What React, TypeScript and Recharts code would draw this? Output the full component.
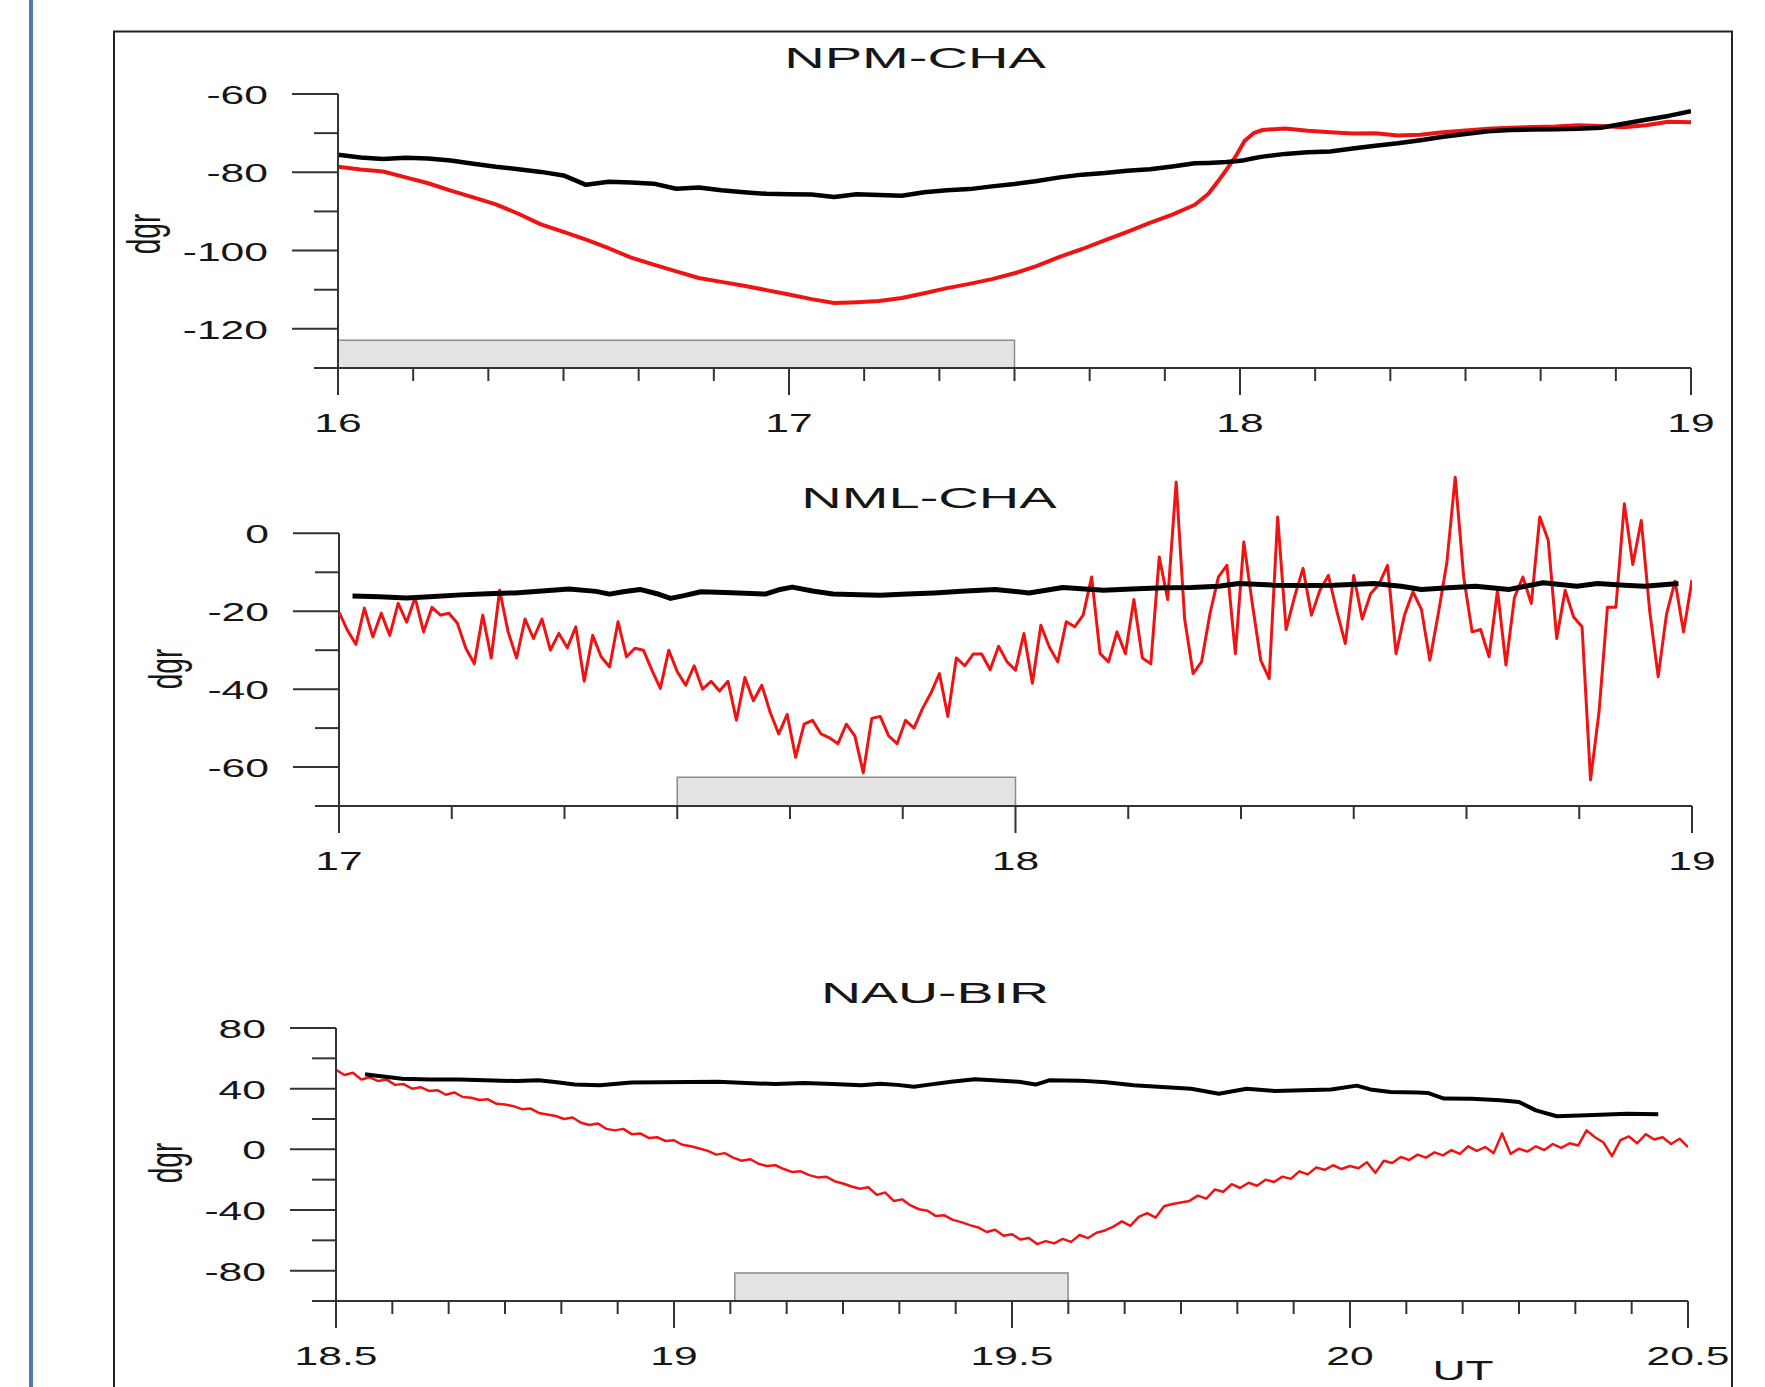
import { LineChart, Line, XAxis, YAxis, ReferenceArea, ReferenceLine } from "recharts";

const FONT = "'Liberation Sans', Arial, Helvetica, sans-serif";
const STRETCH = 1.64;
const RED = "#ef1414";
const INK = "#161616";
const AXIS = "#333333";

// ---- NPM-CHA ----
const npmTimes = [
  16.0, 16.05, 16.1, 16.15, 16.2, 16.25, 16.3, 16.35, 16.4, 16.45, 16.5, 16.55, 16.6,
  16.65, 16.7, 16.75, 16.8, 16.85, 16.9, 16.95, 17.0, 17.05, 17.1, 17.15, 17.2, 17.25,
  17.3, 17.35, 17.4, 17.45, 17.5, 17.55, 17.6, 17.65, 17.7, 17.75, 17.8, 17.85, 17.9,
  17.93, 17.95, 17.97, 17.99, 18.01, 18.03, 18.05, 18.1, 18.15, 18.2, 18.25, 18.3, 18.35,
  18.4, 18.45, 18.5, 18.55, 18.6, 18.65, 18.7, 18.75, 18.8, 18.85, 18.9, 18.95, 19.0,
];
const npmBlack = [
  -75.5, -76.2, -76.6, -76.3, -76.5, -77.0, -77.8, -78.6, -79.2, -79.9, -80.8, -83.2, -82.4,
  -82.6, -82.9, -84.2, -83.9, -84.6, -85.1, -85.5, -85.6, -85.7, -86.3, -85.6, -85.8, -86.0,
  -85.1, -84.6, -84.3, -83.6, -83.0, -82.2, -81.3, -80.6, -80.2, -79.6, -79.2, -78.5, -77.7,
  -77.6, -77.5, -77.4, -77.2, -76.9, -76.4, -76.0, -75.3, -74.9, -74.7, -73.9, -73.2, -72.6,
  -71.8, -70.9, -70.2, -69.5, -69.2, -69.1, -69.0, -68.9, -68.6, -67.6, -66.6, -65.6, -64.4,
];
const npmRed = [
  -78.6, -79.3, -79.8, -81.3, -82.8, -84.7, -86.4, -88.2, -90.6, -93.3, -95.2, -97.2, -99.4,
  -101.8, -103.6, -105.3, -107.0, -108.0, -109.0, -110.1, -111.2, -112.4, -113.4, -113.2, -112.9, -112.1,
  -110.9, -109.6, -108.5, -107.3, -105.8, -103.9, -101.6, -99.6, -97.4, -95.2, -92.9, -90.8, -88.3,
  -85.5, -82.5, -79.3, -76.0, -72.0, -70.0, -69.2, -68.8, -69.4, -69.8, -70.1, -70.0, -70.6,
  -70.4, -69.8, -69.3, -68.9, -68.6, -68.4, -68.3, -68.0, -68.2, -68.5, -68.0, -67.1, -67.2,
];
const npmXMajor = [16, 17, 18, 19];
const npmYTicks = [-130, -120, -110, -100, -90, -80, -70, -60];
const npmYMajor = [-120, -100, -80, -60];
const npmBar = { x1: 16, x2: 17.5, y1: -130, y2: -122.9 };

// ---- NML-CHA ----
const nmlBlackTimes = [
  17.02, 17.06, 17.1, 17.14, 17.18, 17.22, 17.26, 17.3, 17.34, 17.38, 17.4, 17.42, 17.445,
  17.47, 17.49, 17.51, 17.535, 17.57, 17.6, 17.63, 17.65, 17.67, 17.7, 17.73, 17.77, 17.8,
  17.84, 17.88, 17.92, 17.97, 18.02, 18.07, 18.13, 18.18, 18.22, 18.26, 18.3, 18.33, 18.38,
  18.43, 18.47, 18.53, 18.57, 18.6, 18.64, 18.68, 18.73, 18.78, 18.83, 18.86, 18.9, 18.93, 18.98,
];
const nmlBlack = [
  -16.1, -16.3, -16.6, -16.2, -15.8, -15.5, -15.3, -14.8, -14.3, -14.9, -15.6, -15.0, -14.4,
  -15.5, -16.7, -16.0, -15.0, -15.2, -15.4, -15.6, -14.5, -13.8, -14.8, -15.6, -15.8, -15.9,
  -15.6, -15.3, -14.9, -14.4, -15.3, -13.9, -14.6, -14.2, -14.0, -13.9, -13.6, -12.9, -13.3,
  -13.4, -13.3, -12.9, -13.6, -14.4, -14.0, -13.6, -14.4, -12.7, -13.6, -12.9, -13.3, -13.6, -12.9,
];
const nmlRedStart = 17;
const nmlRedStep = 0.0125;
const nmlRed = [
  -20.2, -24.9, -28.5, -19.2, -26.6, -20.5, -26.2, -18.0, -22.8, -16.5, -25.3, -19.0, -21.0,
  -20.5, -23.1, -29.5, -33.5, -21.0, -32.0, -14.6, -25.3, -32.0, -22.0, -27.0, -22.0, -30.0,
  -25.7, -29.4, -24.0, -38.0, -26.2, -31.7, -34.3, -22.7, -31.7, -29.5, -30.0, -35.1, -39.8,
  -30.0, -35.5, -39.0, -34.0, -40.0, -38.0, -40.5, -38.0, -48.0, -37.0, -43.0, -39.0, -46.0,
  -51.5, -46.5, -57.5, -49.0, -48.0, -51.5, -52.5, -54.0, -49.0, -52.0, -61.5, -47.5, -47.0,
  -52.0, -54.0, -48.0, -50.0, -45.0, -41.0, -36.0, -47.0, -32.0, -34.0, -31.0, -31.0, -35.0,
  -29.0, -33.0, -35.1, -25.7, -38.5, -23.6, -29.2, -33.0, -22.7, -24.0, -21.0, -11.2, -30.9,
  -33.0, -25.3, -30.9, -17.0, -32.0, -33.5, -6.1, -17.0, 13.2, -22.0, -36.0, -33.0, -20.6,
  -11.2, -8.2, -30.9, -2.2, -18.0, -32.6, -37.3, 4.2, -24.7, -16.3, -9.0, -21.0, -14.6,
  -10.8, -20.0, -28.3, -10.8, -22.0, -15.5, -13.0, -8.2, -30.9, -21.0, -15.0, -19.5, -32.6,
  -20.6, -7.7, 14.4, -11.2, -25.3, -24.7, -31.7, -14.6, -33.8, -16.5, -11.2, -18.0, 4.2,
  -1.8, -27.0, -14.6, -21.5, -24.0, -63.3, -46.0, -19.0, -19.0, 7.6, -8.0, 3.3, -20.0,
  -36.8, -20.6, -12.3, -25.3, -12.0,
];
const nmlXMajor = [17, 18, 19];
const nmlYTicks = [-70, -60, -50, -40, -30, -20, -10, 0];
const nmlYMajor = [-60, -40, -20, 0];
const nmlBar = { x1: 17.5, x2: 18.0, y1: -70, y2: -62.6 };

// ---- NAU-BIR ----
const nauBlackTimes = [
  18.543, 18.56, 18.598, 18.64, 18.683, 18.72, 18.768, 18.8, 18.83, 18.853, 18.89, 18.937,
  18.98, 19.022, 19.065, 19.107, 19.15, 19.192, 19.235, 19.277, 19.305, 19.33, 19.355,
  19.375, 19.41, 19.445, 19.472, 19.51, 19.535, 19.555, 19.6, 19.639, 19.68, 19.722, 19.765,
  19.806, 19.847, 19.889, 19.93, 19.972, 20.01, 20.03, 20.06, 20.1, 20.115, 20.139, 20.18,
  20.222, 20.25, 20.275, 20.306, 20.35, 20.41, 20.456,
];
const nauBlack = [
  49.5, 48.5, 46.6, 46.0, 46.0, 45.5, 45.0, 45.5, 44.0, 42.7, 42.2, 44.0,
  44.2, 44.4, 44.5, 43.8, 43.0, 43.8, 43.0, 42.2, 43.3, 42.5, 41.2,
  42.5, 44.5, 46.2, 45.5, 44.5, 42.7, 45.5, 45.3, 44.2, 42.2, 41.1, 40.0,
  36.7, 40.0, 38.5, 39.0, 39.4, 42.0, 39.5, 37.8, 37.5, 37.2, 33.5, 33.4,
  32.3, 31.2, 25.7, 21.8, 22.4, 23.5, 23.1,
];
const nauRedStart = 18.5;
const nauRedStep = 0.0125;
const nauRed = [
  52.5, 49.0, 50.5, 46.0, 47.5, 45.0, 46.0, 42.5, 43.0, 40.0, 41.0, 38.5, 39.0,
  36.0, 37.5, 34.5, 34.0, 32.5, 33.0, 30.0, 29.5, 28.5, 26.5, 27.0, 24.0, 23.0,
  22.0, 20.0, 21.0, 17.5, 16.0, 17.0, 13.5, 12.5, 13.5, 10.0, 10.5, 7.5, 8.0,
  5.5, 6.0, 3.0, 2.0, 0.5, -1.0, -3.5, -2.5, -5.5, -7.5, -6.5, -9.5, -11.0,
  -10.5, -13.0, -15.0, -14.5, -17.0, -18.5, -18.0, -21.0, -22.5, -24.5, -26.0, -25.0, -30.0,
  -28.5, -34.0, -33.0, -37.0, -39.5, -40.5, -44.0, -43.5, -46.5, -48.0, -50.0, -51.5, -54.5,
  -53.0, -57.0, -56.0, -59.5, -58.5, -62.5, -60.5, -62.0, -59.0, -61.0, -56.5, -58.5, -55.0,
  -53.5, -51.0, -47.5, -50.5, -44.5, -42.0, -45.0, -37.5, -36.0, -35.0, -34.0, -30.5, -32.5,
  -26.5, -28.0, -23.0, -25.5, -22.0, -24.0, -20.0, -21.5, -18.0, -19.5, -14.5, -16.5, -12.0,
  -13.5, -10.5, -13.0, -11.0, -12.5, -8.5, -15.5, -7.5, -9.0, -5.0, -7.0, -3.5, -5.5,
  -2.0, -4.0, -0.5, -3.0, 2.0, -1.0, 1.5, -2.5, 10.5, -3.0, 0.5, -1.5, 2.0,
  -0.5, 3.5, 1.0, 4.0, 2.5, 12.5, 8.0, 4.5, -4.5, 6.0, 8.5, 4.0, 10.0,
  6.5, 8.0, 3.5, 7.0, 1.5,
];
const nauXMajor = [18.5, 19, 19.5, 20, 20.5];
const nauYTicks = [-100, -80, -60, -40, -20, 0, 20, 40, 60, 80];
const nauYMajor = [-80, -40, 0, 40, 80];
const nauBar = { x1: 19.09, x2: 19.583, y1: -100, y2: -81.6 };

type Row = { t: number; black?: number; red?: number };

function merge(bt: number[], bv: number[], rt: number[], rv: number[]): Row[] {
  const map = new Map<number, Row>();
  bt.forEach((t, i) => {
    const r = map.get(t) ?? { t };
    r.black = bv[i];
    map.set(t, r);
  });
  rt.forEach((t, i) => {
    const r = map.get(t) ?? { t };
    r.red = rv[i];
    map.set(t, r);
  });
  return [...map.values()].sort((a, b) => a.t - b.t);
}

function stepTimes(start: number, step: number, n: number) {
  return Array.from({ length: n }, (_, i) => +(start + i * step).toFixed(4));
}

function subTicks(majors: number[], sub: number) {
  const out: number[] = [];
  for (let i = 0; i < majors.length - 1; i++) {
    for (let k = 0; k < sub; k++) out.push(majors[i] + ((majors[i + 1] - majors[i]) * k) / sub);
  }
  out.push(majors[majors.length - 1]);
  return out;
}

const makeXTick = (majors: number[]) => (props: any) => {
  const { x, y, payload } = props;
  const m = majors.find((v) => Math.abs(v - payload.value) < 1e-6);
  const major = m !== undefined;
  return (
    <g>
      <line x1={x} x2={x} y1={y} y2={y + (major ? 27 : 13)} stroke={AXIS} strokeWidth={2} />
      {major && (
        <text
          transform={`translate(${x},${y + 64}) scale(${STRETCH},1)`}
          textAnchor="middle"
          fontSize={26}
          fontFamily={FONT}
          fill={INK}
        >
          {String(m)}
        </text>
      )}
    </g>
  );
};

const makeYTick = (majors: number[]) => (props: any) => {
  const { x, y, payload } = props;
  const major = majors.includes(payload.value);
  return (
    <g>
      <line x1={x - (major ? 46 : 24)} x2={x} y1={y} y2={y} stroke={AXIS} strokeWidth={2} />
      {major && (
        <text
          transform={`translate(${x - 70},${y + 10}) scale(${STRETCH},1)`}
          textAnchor="end"
          fontSize={26}
          fontFamily={FONT}
          fill={INK}
        >
          {payload.value}
        </text>
      )}
    </g>
  );
};

type PanelProps = {
  top: number;
  height: number;
  margin: { top: number; right: number; bottom: number; left: number };
  rows: Row[];
  xMajor: number[];
  yDomain: [number, number];
  yTicks: number[];
  yMajor: number[];
  yAxisTop?: number;
  bar: { x1: number; x2: number; y1: number; y2: number };
  blackWidth: number;
  redWidth: number;
};

function Panel(p: PanelProps) {
  const xDomain: [number, number] = [p.xMajor[0], p.xMajor[p.xMajor.length - 1]];
  const partialAxis = p.yAxisTop !== undefined;
  return (
    <div style={{ position: "absolute", left: 0, top: p.top }}>
      <LineChart width={1765} height={p.height} data={p.rows} margin={p.margin}>
        <XAxis
          dataKey="t"
          type="number"
          domain={xDomain}
          ticks={subTicks(p.xMajor, 6)}
          interval={0}
          height={80}
          tickSize={0}
          tickMargin={0}
          tickLine={false}
          axisLine={{ stroke: AXIS, strokeWidth: 2 }}
          tick={makeXTick(p.xMajor)}
          allowDataOverflow
        />
        <YAxis
          type="number"
          domain={p.yDomain}
          ticks={p.yTicks}
          interval={0}
          width={120}
          tickSize={0}
          tickMargin={0}
          tickLine={false}
          axisLine={partialAxis ? false : { stroke: AXIS, strokeWidth: 2 }}
          tick={makeYTick(p.yMajor)}
          allowDataOverflow
        />
        {partialAxis && (
          <ReferenceLine
            segment={[
              { x: xDomain[0], y: p.yDomain[0] },
              { x: xDomain[0], y: p.yAxisTop as number },
            ]}
            stroke={AXIS}
            strokeWidth={2}
          />
        )}
        <ReferenceArea
          x1={p.bar.x1}
          x2={p.bar.x2}
          y1={p.bar.y1}
          y2={p.bar.y2}
          fill="#e3e3e3"
          fillOpacity={1}
          stroke="#8c8c8c"
          strokeWidth={1.5}
        />
        <Line
          type="linear"
          dataKey="red"
          stroke={RED}
          strokeWidth={p.redWidth}
          strokeLinejoin="round"
          dot={false}
          connectNulls
          isAnimationActive={false}
        />
        <Line
          type="linear"
          dataKey="black"
          stroke="#000000"
          strokeWidth={p.blackWidth}
          strokeLinejoin="round"
          dot={false}
          connectNulls
          isAnimationActive={false}
        />
      </LineChart>
    </div>
  );
}

const npmRows = merge(npmTimes, npmBlack, npmTimes, npmRed);
const nmlRows = merge(
  nmlBlackTimes,
  nmlBlack,
  stepTimes(nmlRedStart, nmlRedStep, nmlRed.length),
  nmlRed
);
const nauRows = merge(
  nauBlackTimes,
  nauBlack,
  stepTimes(nauRedStart, nauRedStep, nauRed.length),
  nauRed
);

const titleStyle = { fontSize: 30, fontFamily: FONT, fill: INK };

export default function App() {
  return (
    <div
      style={{
        position: "absolute",
        left: 0,
        top: 0,
        width: 1765,
        height: 1387,
        overflow: "hidden",
        background: "#ffffff",
      }}
    >
      <svg width={1765} height={1387} style={{ position: "absolute", left: 0, top: 0 }}>
        <rect x={29} y={0} width={4} height={1387} fill="#4f79b0" />
        <rect x={114} y={31.5} width={1618} height={1420} fill="none" stroke="#222222" strokeWidth={2} />
        <text transform="translate(915,68) scale(1.87,1)" textAnchor="middle" {...titleStyle}>
          NPM-CHA
        </text>
        <text transform="translate(929,508) scale(1.87,1)" textAnchor="middle" {...titleStyle}>
          NML-CHA
        </text>
        <text transform="translate(935,1003) scale(1.85,1)" textAnchor="middle" {...titleStyle}>
          NAU-BIR
        </text>
        <text transform={`translate(160,234) scale(${STRETCH},1) rotate(-90)`} textAnchor="middle" fontSize={28} fontFamily={FONT} fill={INK}>
          dgr
        </text>
        <text transform={`translate(182,669) scale(${STRETCH},1) rotate(-90)`} textAnchor="middle" fontSize={28} fontFamily={FONT} fill={INK}>
          dgr
        </text>
        <text transform={`translate(182,1163) scale(${STRETCH},1) rotate(-90)`} textAnchor="middle" fontSize={28} fontFamily={FONT} fill={INK}>
          dgr
        </text>
        <text transform={`translate(1463,1380) scale(${STRETCH},1)`} textAnchor="middle" fontSize={28} fontFamily={FONT} fill={INK}>
          UT
        </text>
      </svg>

      <Panel
        top={0}
        height={460}
        margin={{ top: 94, right: 74, bottom: 12, left: 218 }}
        rows={npmRows}
        xMajor={npmXMajor}
        yDomain={[-130, -60]}
        yTicks={npmYTicks}
        yMajor={npmYMajor}
        bar={npmBar}
        blackWidth={4.5}
        redWidth={4}
      />
      <Panel
        top={460}
        height={440}
        margin={{ top: 11, right: 73, bottom: 14, left: 219 }}
        rows={nmlRows}
        xMajor={nmlXMajor}
        yDomain={[-70, 16]}
        yTicks={nmlYTicks}
        yMajor={nmlYMajor}
        yAxisTop={0}
        bar={nmlBar}
        blackWidth={5}
        redWidth={3}
      />
      <Panel
        top={900}
        height={487}
        margin={{ top: 128, right: 77, bottom: 6, left: 216 }}
        rows={nauRows}
        xMajor={nauXMajor}
        yDomain={[-100, 80]}
        yTicks={nauYTicks}
        yMajor={nauYMajor}
        bar={nauBar}
        blackWidth={4}
        redWidth={2.5}
      />
    </div>
  );
}
